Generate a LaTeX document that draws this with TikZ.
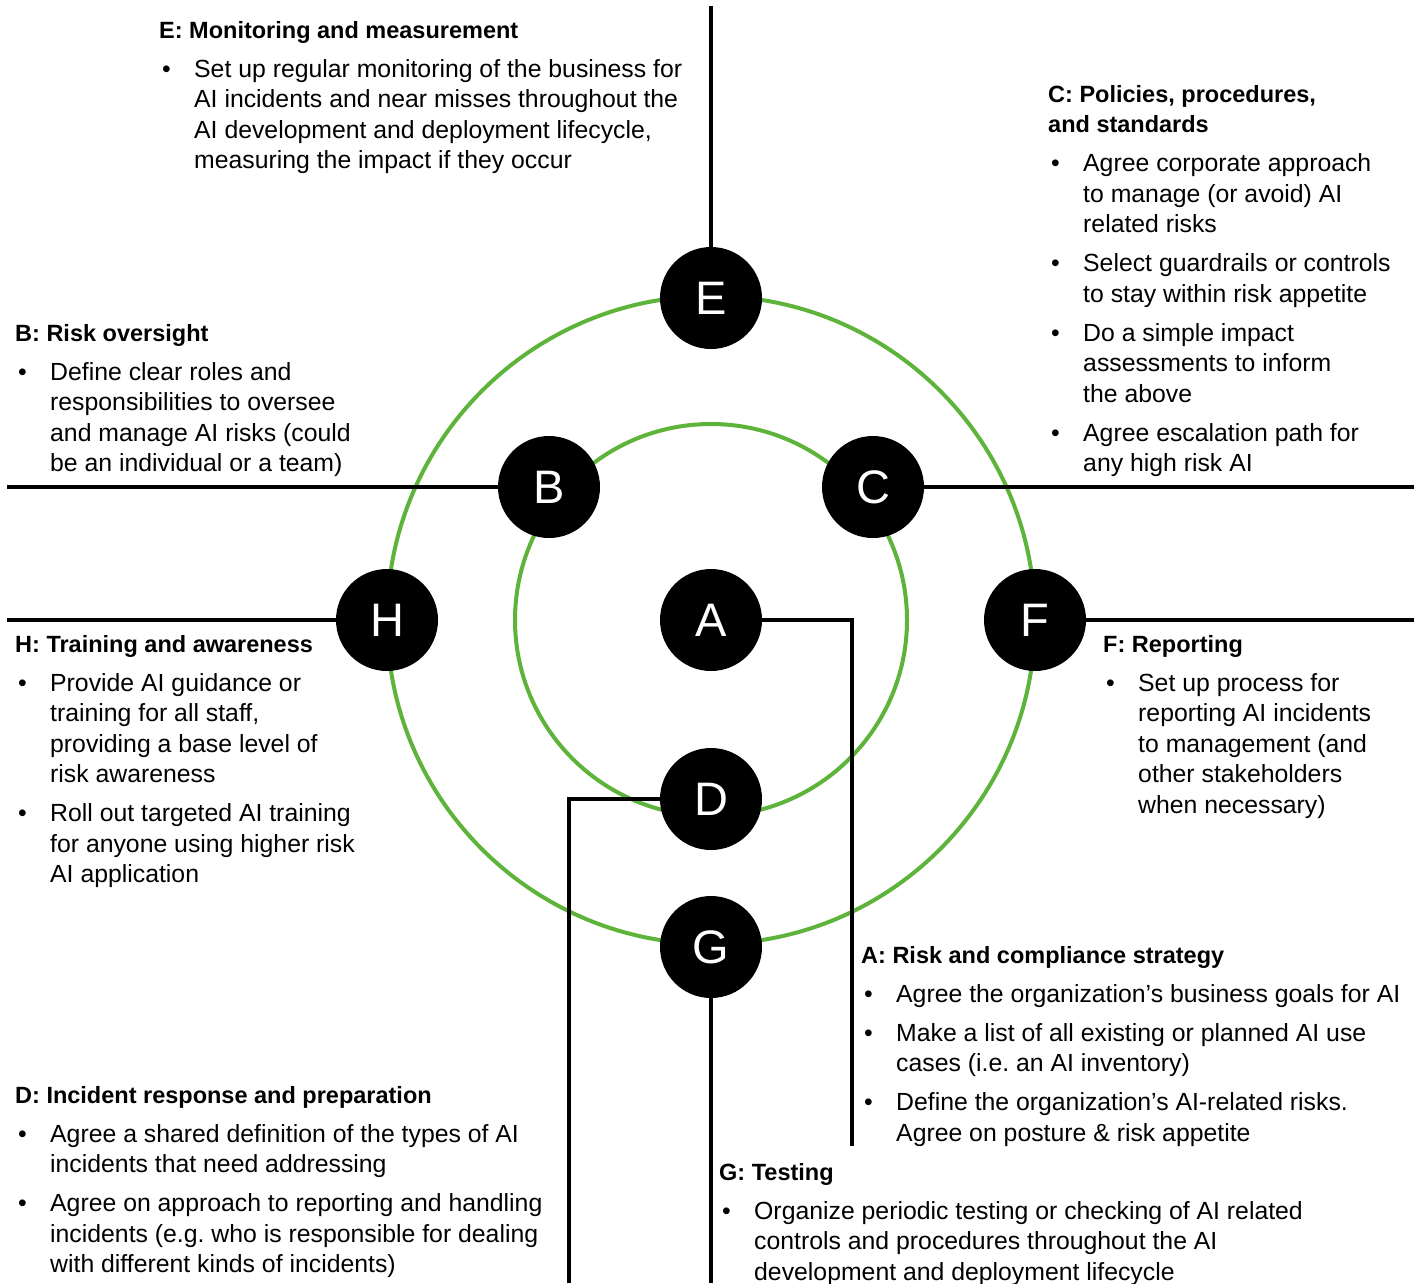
\documentclass[tikz,border=0pt]{standalone}
\usepackage{fontspec}
\setmainfont{Liberation Sans}
\frenchspacing
\definecolor{ringgreen}{HTML}{5EB43A}
% bullet with hanging indent, and the indent of continuation lines
\newcommand\bul{\makebox[35pt][l]{\hspace{3pt}\textbullet}}
\newcommand\ind{\hspace*{35pt}}
\newcommand\hd[1]{{\bfseries\fontsize{23.5}{30.5}\selectfont #1}}
\tikzset{
  stage/.style={circle, fill=black, minimum size=102pt, inner sep=0pt,
    text=white, font=\fontsize{47}{47}\selectfont},
  ring/.style={draw=ringgreen, line width=4pt},
  link/.style={draw=black, line width=3.5pt},
  info/.style={anchor=north west, inner sep=0pt, align=left,
    font=\fontsize{24.8}{30.5}\selectfont},
}
\begin{document}
\begin{tikzpicture}[x=1pt,y=-1pt]
\fill[white] (0,0) rectangle (1424,1283);
\useasboundingbox (0,0) rectangle (1424,1283);

% the two rings
\coordinate (ctr) at (711,620);
\draw[ring] (ctr) circle[radius=324pt];
\draw[ring] (ctr) circle[radius=196pt];

% stage markers
\node[stage] (A) at (711,620) {A};
\node[stage] (B) at (549,487) {B};
\node[stage] (C) at (873,487) {C};
\node[stage] (D) at (711,799) {D};
\node[stage] (E) at (711,298) {E};
\node[stage] (F) at (1035,620) {F};
\node[stage] (G) at (711,947) {G};
\node[stage] (H) at (387,620) {H};

% free ends of the leader lines
\coordinate (eEnd) at (711,6);
\coordinate (bEnd) at (7,487);
\coordinate (cEnd) at (1414,487);
\coordinate (hEnd) at (7,620);
\coordinate (fEnd) at (1414,620);
\coordinate (aEnd) at (852,1146);
\coordinate (dEnd) at (569,1283);
\coordinate (gEnd) at (711,1283);

% leader lines from each marker to its description
\draw[link] (E) -- (eEnd);
\draw[link] (B) -- (bEnd);
\draw[link] (C) -- (cEnd);
\draw[link] (H) -- (hEnd);
\draw[link] (F) -- (fEnd);
\draw[link] (A.east) -| (aEnd);
\draw[link] (D.west) -| (dEnd);
\draw[link] (G) -- (gEnd);

% descriptions
\node[info] (txtE) at (159,21) {\hd{E: Monitoring and measurement}\\[8.5pt]
\bul Set up regular monitoring of the business for\\
\ind AI incidents and near misses throughout the\\
\ind AI development and deployment lifecycle,\\
\ind measuring the impact if they occur};

\node[info] (txtC) at (1048,85) {\hd{C: Policies, procedures,}\\
\hd{and standards}\\[8.5pt]
\bul Agree corporate approach\\
\ind to manage (or avoid) AI\\
\ind related risks\\[8.5pt]
\bul Select guardrails or controls\\
\ind to stay within risk appetite\\[8.5pt]
\bul Do a simple impact\\
\ind assessments to inform\\
\ind the above\\[8.5pt]
\bul Agree escalation path for\\
\ind any high risk AI};

\node[info] (txtB) at (15,324) {\hd{B: Risk oversight}\\[8.5pt]
\bul Define clear roles and\\
\ind responsibilities to oversee\\
\ind and manage AI risks (could\\
\ind be an individual or a team)};

\node[info] (txtH) at (15,635) {\hd{H: Training and awareness}\\[8.5pt]
\bul Provide AI guidance or\\
\ind training for all staff,\\
\ind providing a base level of\\
\ind risk awareness\\[8.5pt]
\bul Roll out targeted AI training\\
\ind for anyone using higher risk\\
\ind AI application};

\node[info] (txtF) at (1103,635) {\hd{F: Reporting}\\[8.5pt]
\bul Set up process for\\
\ind reporting AI incidents\\
\ind to management (and\\
\ind other stakeholders\\
\ind when necessary)};

\node[info] (txtA) at (861,946) {\hd{A: Risk and compliance strategy}\\[8.5pt]
\bul Agree the organization’s business goals for AI\\[8.5pt]
\bul Make a list of all existing or planned AI use\\
\ind cases (i.e. an AI inventory)\\[8.5pt]
\bul Define the organization’s AI-related risks.\\
\ind Agree on posture \& risk appetite};

\node[info] (txtD) at (15,1086) {\hd{D: Incident response and preparation}\\[8.5pt]
\bul Agree a shared definition of the types of AI\\
\ind incidents that need addressing\\[8.5pt]
\bul Agree on approach to reporting and handling\\
\ind incidents (e.g. who is responsible for dealing\\
\ind with different kinds of incidents)};

\node[info] (txtG) at (719,1163) {\hd{G: Testing}\\[8.5pt]
\bul Organize periodic testing or checking of AI related\\
\ind controls and procedures throughout the AI\\
\ind development and deployment lifecycle};
\end{tikzpicture}
\end{document}
